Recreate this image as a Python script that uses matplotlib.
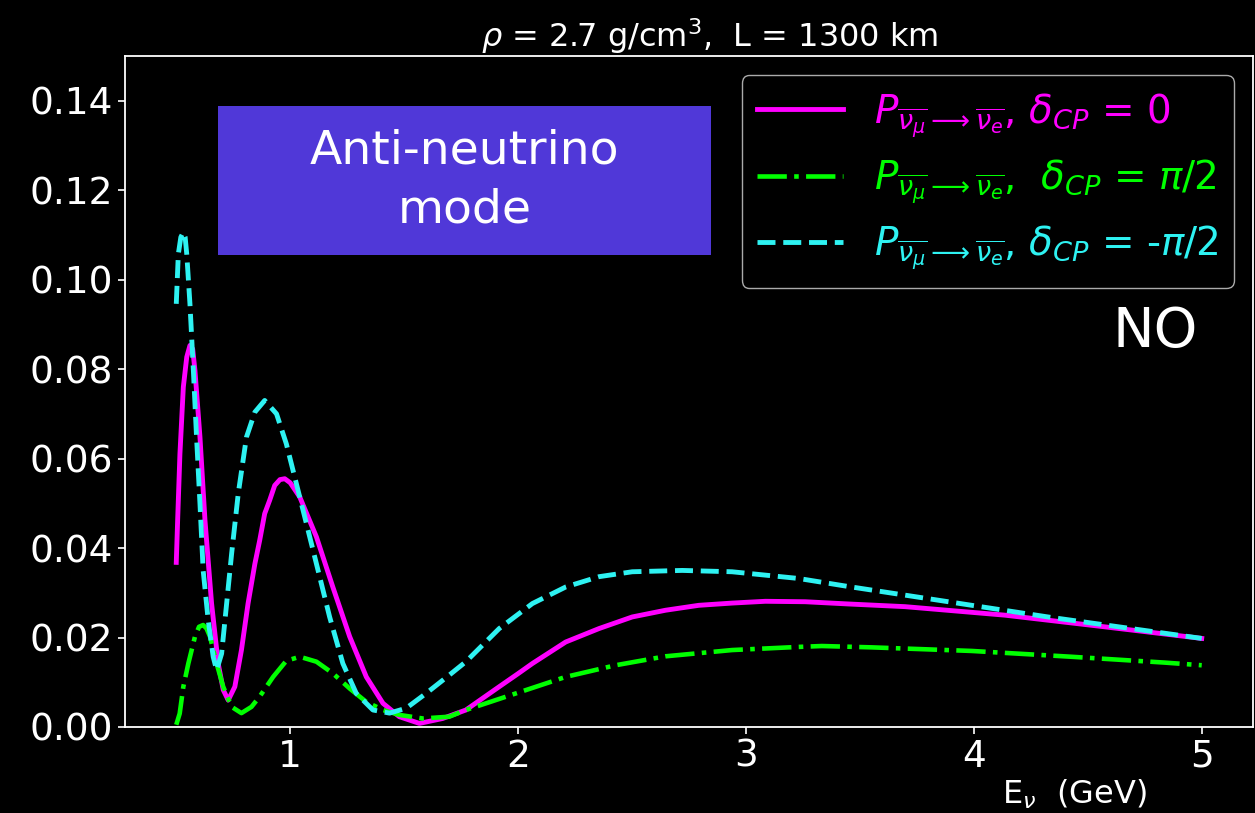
import matplotlib
matplotlib.use("Agg")
import matplotlib.pyplot as plt
from matplotlib.patches import Rectangle

# Appearance probabilities for the anti-neutrino channel (NO, DUNE-like baseline)
E_dcp0 = [0.500, 0.506, 0.516, 0.531, 0.546, 0.560, 0.572, 0.582, 0.604, 0.626,
          0.655, 0.684, 0.706, 0.728, 0.757, 0.786, 0.815, 0.845, 0.866, 0.888,
          0.910, 0.932, 0.955, 0.976, 1.000, 1.042, 1.115, 1.187, 1.261, 1.334,
          1.407, 1.479, 1.567, 1.669, 1.771, 1.917, 2.002, 2.063, 2.209, 2.355,
          2.501, 2.647, 2.793, 2.939, 3.085, 3.260, 3.450, 3.698, 4.136, 4.573,
          5.000]
P_dcp0 = [0.0368, 0.0462, 0.0610, 0.0760, 0.0827, 0.0853, 0.0845, 0.0797, 0.0648, 0.0462,
          0.0276, 0.0142, 0.0083, 0.0060, 0.0090, 0.0172, 0.0276, 0.0365, 0.0417, 0.0477,
          0.0507, 0.0540, 0.0553, 0.0555, 0.0546, 0.0514, 0.0425, 0.0313, 0.0202, 0.0112,
          0.0053, 0.0023, 0.0008, 0.0019, 0.0038, 0.0090, 0.0120, 0.0142, 0.0190, 0.0220,
          0.0246, 0.0261, 0.0272, 0.0277, 0.0281, 0.0280, 0.0275, 0.0269, 0.0250, 0.0224,
          0.0198]

E_dcp_p = [0.500, 0.515, 0.531, 0.553, 0.582, 0.600, 0.618, 0.633, 0.648, 0.677,
           0.706, 0.743, 0.786, 0.830, 0.866, 0.925, 0.983, 1.042, 1.115, 1.187,
           1.261, 1.334, 1.407, 1.479, 1.582, 1.698, 1.771, 1.990, 2.209, 2.428,
           2.647, 2.939, 3.231, 3.333, 3.552, 3.990, 4.428, 4.836, 5.000]
P_dcp_p = [0.0005, 0.0030, 0.0090, 0.0142, 0.0202, 0.0224, 0.0228, 0.0220, 0.0202, 0.0142,
           0.0090, 0.0045, 0.0031, 0.0045, 0.0068, 0.0112, 0.0148, 0.0157, 0.0146, 0.0120,
           0.0086, 0.0056, 0.0038, 0.0027, 0.0019, 0.0023, 0.0038, 0.0075, 0.0112, 0.0138,
           0.0158, 0.0172, 0.0179, 0.0181, 0.0178, 0.0170, 0.0157, 0.0144, 0.0138]

E_dcp_m = [0.500, 0.509, 0.520, 0.531, 0.539, 0.546, 0.560, 0.575, 0.589, 0.604,
           0.618, 0.640, 0.662, 0.677, 0.699, 0.721, 0.743, 0.772, 0.808, 0.845,
           0.888, 0.940, 0.983, 1.027, 1.071, 1.115, 1.173, 1.231, 1.290, 1.363,
           1.436, 1.509, 1.596, 1.698, 1.771, 1.917, 2.063, 2.209, 2.355, 2.501,
           2.720, 2.939, 3.231, 3.450, 3.888, 4.325, 4.719, 5.000]
P_dcp_m = [0.0946, 0.1057, 0.1095, 0.1106, 0.1095, 0.1057, 0.0946, 0.0797, 0.0648, 0.0499,
           0.0350, 0.0239, 0.0157, 0.0127, 0.0164, 0.0276, 0.0388, 0.0522, 0.0648, 0.0704,
           0.0730, 0.0700, 0.0633, 0.0544, 0.0455, 0.0365, 0.0246, 0.0142, 0.0075, 0.0038,
           0.0031, 0.0042, 0.0075, 0.0116, 0.0146, 0.0220, 0.0276, 0.0313, 0.0336, 0.0347,
           0.0350, 0.0347, 0.0332, 0.0314, 0.0280, 0.0246, 0.0218, 0.0198]

chan = r'$P_{\overline{\nu_\mu}\longrightarrow\overline{\nu_e}}$'
labels = [chan + r', $\delta_{CP}$ = 0',
          chan + r',  $\delta_{CP}$ = $\pi$/2',
          chan + r', $\delta_{CP}$ = -$\pi$/2']
colors = ['#ff00ff', '#00ff00', '#2ef2f2']

fig = plt.figure(figsize=(12.55, 8.13), dpi=100, facecolor='black')
ax = fig.add_axes([0.0996, 0.1058, 0.8988, 0.8253])
ax.set_facecolor('black')

ax.plot(E_dcp0, P_dcp0, '-', color=colors[0], lw=3.5, label=labels[0])
ax.plot(E_dcp_p, P_dcp_p, '-.', color=colors[1], lw=3.3, label=labels[1])
ax.plot(E_dcp_m, P_dcp_m, '--', color=colors[2], lw=3.5, label=labels[2])

ax.set_ylim(0, 0.15)
ax.set_yticks([0.0, 0.02, 0.04, 0.06, 0.08, 0.10, 0.12, 0.14])
ax.set_xticks([1, 2, 3, 4, 5])
ax.tick_params(colors='white', labelsize=27, width=1.2, length=5)
for s in ax.spines.values():
    s.set_color('white')
    s.set_linewidth(1.3)

ax.set_title(r'$\rho$ = 2.7 g/cm$^3$,  L = 1300 km', color='white', fontsize=23,
             pad=4, x=0.518)
ax.set_xlabel(r'E$_\nu$  (GeV)', color='white', fontsize=23)
ax.xaxis.set_label_coords(0.842, -0.076)

leg = ax.legend(loc='upper right', fontsize=28, handlelength=2.2, facecolor='black',
                edgecolor='#aaaaaa', framealpha=1, labelspacing=0.45)
for txt, c in zip(leg.get_texts(), colors):
    txt.set_color(c)

ax.add_patch(Rectangle((0.0824, 0.7034), 0.4371, 0.2221, transform=ax.transAxes,
                       facecolor='#5038d8', edgecolor='none', zorder=3))
ax.text(0.301, 0.8145, 'Anti-neutrino\nmode', transform=ax.transAxes, ha='center',
        va='center', color='white', fontsize=34, linespacing=1.4, zorder=4)

ax.text(0.913, 0.589, 'NO', transform=ax.transAxes, ha='center', va='center',
        color='white', fontsize=40)

fig.savefig('out.png', dpi=100, facecolor='black')
